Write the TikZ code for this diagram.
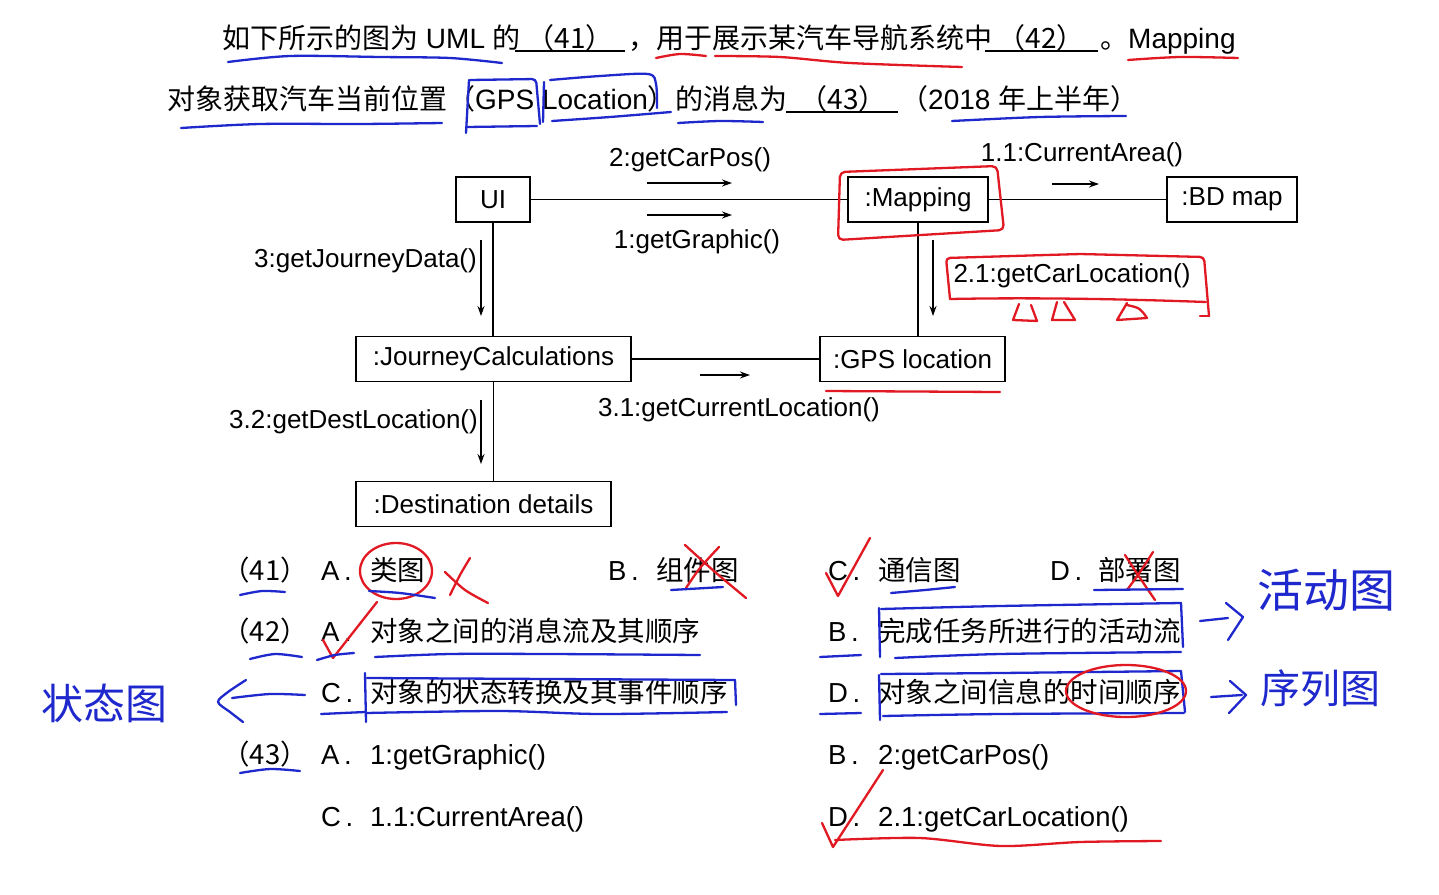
\documentclass[tikz,border=0pt]{standalone}
\usepackage{fontspec}
\setmainfont{Liberation Sans}
\newfontfamily\cjk{Noto Sans CJK SC}
\usetikzlibrary{arrows.meta}
\definecolor{hblue}{RGB}{30,40,205}
\definecolor{hred}{RGB}{225,25,35}
\begin{document}
\begin{tikzpicture}[x=1pt,y=-1pt,
  obj/.style={draw, line width=1.8pt, minimum height=45pt, inner sep=0pt, font=\fontsize{26}{30}\selectfont},
  lbl/.style={font=\fontsize{26}{30}\selectfont, inner sep=0pt},
  link/.style={line width=1.4pt},
  msg/.style={line width=1.4pt, -{Stealth[length=10pt,width=7pt]}},
  q/.style={font=\fontsize{28}{32}\selectfont, inner sep=0pt, anchor=base west},
  qc/.style={font=\fontsize{28}{32}\selectfont\cjk, inner sep=0pt, anchor=base},
  opt/.style={font=\fontsize{27.5}{32}\selectfont, inner sep=0pt, anchor=base west},
  optc/.style={font=\fontsize{27.5}{32}\selectfont\cjk, inner sep=0pt, anchor=base west},
  blank/.style={line width=1.5pt},
  hb/.style={hblue, line width=2.3pt, line cap=round, line join=round},
  hr/.style={hred, line width=2.3pt, line cap=round, line join=round},
  hw/.style={text=hblue, inner sep=0pt},
]
\useasboundingbox (0,0) rectangle (1439,894);
\fill[white] (0,0) rectangle (1439,894);

% ---------- question text ----------
\node[q] (t1a) at (222,48) {{\cjk 如下所示的图为} UML {\cjk 的}};
\draw[blank] (515,51) -- (625,51);
\node[qc] (t1b) at (570,48) {（41）};
\node[q] (t1c) at (628,48) {\cjk ，用于展示某汽车导航系统中};
\draw[blank] (985,51) -- (1098,51);
\node[qc] (t1d) at (1041,48) {（42）};
\node[q] (t1e) at (1100,48) {{\cjk 。}Mapping};

\node[q] (t2a) at (167,109) {{\cjk 对象获取汽车当前位置（}GPS Location{\cjk ）的消息为}};
\draw[blank] (786,112) -- (898,112);
\node[qc] (t2b) at (843,109) {（43）};
\node[q] (t2c) at (900,109) {{\cjk （}2018 {\cjk 年上半年）}};

% ---------- diagram ----------
\node[obj, minimum width=74pt] (ui) at (493,199.5) {UI};
\node[obj, minimum width=140pt] (map) at (918,199.5) {:Mapping};
\node[obj, minimum width=130pt] (bd) at (1232,199.5) {:BD map};
\node[obj, minimum width=275pt] (jc) at (493.5,359) {:JourneyCalculations};
\node[obj, minimum width=185pt] (gps) at (912.5,359) {:GPS location};
\node[obj, minimum width=255pt] (dest) at (483.5,504) {:Destination details};

\draw[link] (ui) -- (map);
\draw[link] (map) -- (bd);
\draw[link] (ui.south) -- (ui.south |- jc.north);
\draw[link] (jc) -- (gps);
\draw[link] (jc.south) -- (jc.south |- dest.north);
\draw[link] (map.south) -- (map.south |- gps.north);

\coordinate (m2a) at (647,183); \coordinate (m2b) at (732,183);
\coordinate (m1a) at (647,215); \coordinate (m1b) at (732,215);
\coordinate (m11a) at (1052,184); \coordinate (m11b) at (1099,184);
\coordinate (m3a) at (481,240); \coordinate (m3b) at (481,316);
\coordinate (m21a) at (933,240); \coordinate (m21b) at (933,316);
\coordinate (m31a) at (700,375); \coordinate (m31b) at (750,375);
\coordinate (m32a) at (481,400); \coordinate (m32b) at (481,464);
\draw[msg] (m2a) -- (m2b);
\draw[msg] (m1a) -- (m1b);
\draw[msg] (m11a) -- (m11b);
\draw[msg] (m3a) -- (m3b);
\draw[msg] (m21a) -- (m21b);
\draw[msg] (m31a) -- (m31b);
\draw[msg] (m32a) -- (m32b);

\node[lbl] (l2) at (690,160) {2:getCarPos()};
\node[lbl] (l1) at (697,242) {1:getGraphic()};
\node[lbl] (l11) at (1082,155) {1.1:CurrentArea()};
\node[lbl, anchor=east] (l3) at (477,261) {3:getJourneyData()};
\node[lbl] (l21) at (1072,276) {2.1:getCarLocation()};
\node[lbl] (l31) at (739,410) {3.1:getCurrentLocation()};
\node[lbl, anchor=east] (l32) at (478,422) {3.2:getDestLocation()};

% ---------- options ----------
\node[qc, font=\fontsize{27.5}{32}\selectfont\cjk] (o41) at (265,580) {（41）};
\node[opt] (o41a) at (321,580) {A\,.};
\node[optc] (o41at) at (370,580) {类图};
\node[opt] (o41b) at (608,580) {B\,.};
\node[optc] (o41bt) at (656,580) {组件图};
\node[opt] (o41c) at (828,580) {C\,.};
\node[optc] (o41ct) at (878,580) {通信图};
\node[opt] (o41d) at (1050,580) {D\,.};
\node[optc] (o41dt) at (1098,580) {部署图};

\node[qc, font=\fontsize{27.5}{32}\selectfont\cjk] (o42) at (265,641) {（42）};
\node[opt] (o42a) at (321,641) {A\,.};
\node[optc] (o42at) at (370,641) {对象之间的消息流及其顺序};
\node[opt] (o42b) at (828,641) {B\,.};
\node[optc] (o42bt) at (878,641) {完成任务所进行的活动流};
\node[opt] (o42c) at (321,702) {C\,.};
\node[optc] (o42ct) at (370,702) {对象的状态转换及其事件顺序};
\node[opt] (o42d) at (828,702) {D\,.};
\node[optc] (o42dt) at (878,702) {对象之间信息的时间顺序};

\node[qc, font=\fontsize{27.5}{32}\selectfont\cjk] (o43) at (265,764) {（43）};
\node[opt] (o43a) at (321,764) {A\,.};
\node[opt] (o43at) at (370,764) {1:getGraphic()};
\node[opt] (o43b) at (828,764) {B\,.};
\node[opt] (o43bt) at (878,764) {2:getCarPos()};
\node[opt] (o43c) at (321,826) {C\,.};
\node[opt] (o43ct) at (370,826) {1.1:CurrentArea()};
\node[opt] (o43d) at (828,826) {D\,.};
\node[opt] (o43dt) at (878,826) {2.1:getCarLocation()};

% ---------- handwritten annotations: title ----------
\draw[hb] plot[smooth] coordinates {(228,62) (290,56) (380,57) (450,58) (502,63)};
\draw[hr] plot[smooth] coordinates {(656,58) (680,54) (706,56)};
\draw[hr] plot[smooth] coordinates {(715,56) (780,57) (850,63) (962,67)};
\draw[hr] plot[smooth] coordinates {(1128,60) (1180,57) (1238,58)};
\draw[hb] plot[smooth] coordinates {(181,128) (260,124) (360,124) (442,123)};
\draw[hb] (469,80) -- (466,133);
\draw[hb, rounded corners=4pt] (470,80) -- (536,79) -- (540,124);
\draw[hb] (467,127) -- (537,126);
\draw[hb] (544,82) -- (543,122);
\draw[hb] plot[smooth] coordinates {(550,80) (600,76) (648,74) (656,84) (657,108)};
\draw[hb] plot[smooth] coordinates {(552,121) (610,117) (671,112)};
\draw[hb] plot[smooth] coordinates {(678,123) (720,121) (763,122)};
\draw[hb] plot[smooth] coordinates {(952,121) (1040,117) (1126,116)};

% ---------- handwritten annotations: diagram ----------
\draw[hr, rounded corners=5pt] (840,172) -- (997,166) -- (1004,230) -- (838,240) -- cycle;
\draw[hr, rounded corners=4pt] (950,299) -- (946,258) -- (1080,254) -- (1204,257) -- (1209,316);
\draw[hr] (950,299) .. controls (1050,297) and (1150,300) .. (1206,302);
\draw[hr] (1200,316) -- (1209,316);
\draw[hr] (1019,304) -- (1013,320) -- (1037,321) -- (1031,305);
\draw[hr] (1057,302) -- (1052,320) -- (1075,320) -- (1064,302);
\draw[hr] (1127,303) -- (1117,320) -- (1147,318) .. controls (1140,308) .. (1127,305);
\draw[hr] (826,391) -- (1000,392);

% ---------- handwritten annotations: options ----------
\draw[hr] (396,571) ellipse (36 and 28);
\draw[hr] plot[smooth] coordinates {(470,558) (460,575) (450,595)};
\draw[hr] plot[smooth] coordinates {(445,572) (465,590) (488,603)};
\draw[hb] plot[smooth] coordinates {(240,595) (262,591) (285,592)};
\draw[hb] plot[smooth] coordinates {(369,591) (400,593) (435,598)};
\draw[hr] plot[smooth] coordinates {(686,588) (700,568) (719,547)};
\draw[hr] plot[smooth] coordinates {(685,545) (715,572) (746,598)};
\draw[hb] (671,590) -- (723,587);
\draw[hr] (826,573) -- (838,596) -- (870,538);
\draw[hb] plot[smooth] coordinates {(891,593) (925,590) (955,587)};
\draw[hr] plot[smooth] coordinates {(1125,555) (1140,578) (1155,600)};
\draw[hr] plot[smooth] coordinates {(1153,552) (1140,572) (1127,590)};
\draw[hb] (1094,590) -- (1183,589);

\draw[hb] plot[smooth] coordinates {(250,659) (275,654) (302,657)};
\draw[hr] (323,640) -- (333,658) -- (377,602);
\draw[hb] plot[smooth] coordinates {(317,660) (335,655) (354,653)};
\draw[hb] plot[smooth] coordinates {(375,657) (450,654) (550,654) (700,655)};

\draw[hb] (820,657) -- (861,655);
\draw[hb] (879,608) -- (880,657);
\draw[hb] plot[smooth] coordinates {(881,609) (1000,606) (1181,603)};
\draw[hb] (1181,603) -- (1183,647);
\draw[hb] plot[smooth] coordinates {(895,658) (1000,654) (1181,652)};
\draw[hb] (1200,621) -- (1228,618);
\draw[hb] (1226,603) -- (1243,617) -- (1228,640);
\node[hw, font=\cjk\fontsize{46}{46}\selectfont] (hw2) at (1326,590) {活动图};

\draw[hb] (820,714) -- (861,713);
\draw[hb] (879,675) -- (880,720);
\draw[hb] plot[smooth] coordinates {(881,674) (1000,673) (1181,671)};
\draw[hb] (1181,671) -- (1185,712);
\draw[hb] plot[smooth] coordinates {(883,716) (1000,714) (1184,713)};
\draw[hr] (1126,691) ellipse (60 and 26);
\draw[hb] (1211,697) -- (1242,695);
\draw[hb] (1230,681) -- (1246,695) -- (1229,713);
\node[hw, font=\cjk\fontsize{40}{40}\selectfont] (hw3) at (1320,688) {序列图};

\draw[hb] (321,714) -- (365,712);
\draw[hb] (365,673) -- (366,722);
\draw[hb] plot[smooth] coordinates {(367,678) (550,679) (735,680)};
\draw[hb] (735,680) -- (736,705);
\draw[hb] plot[smooth] coordinates {(366,713) (500,711) (600,714) (727,712)};
\draw[hb] plot[smooth] coordinates {(246,680) (228,692) (218,702) (230,712) (243,722)};
\draw[hb] plot[smooth] coordinates {(232,698) (270,694) (305,695)};
\node[hw, font=\cjk\fontsize{42}{42}\selectfont] (hw1) at (104,703) {状态图};

\draw[hb] plot[smooth] coordinates {(240,773) (270,769) (300,771)};
\draw[hr] (822,823) -- (833,847) -- (883,770);
\draw[hr] plot[smooth] coordinates {(835,840) (920,838) (1001,846) (1080,842) (1161,841)};
\end{tikzpicture}
\end{document}
